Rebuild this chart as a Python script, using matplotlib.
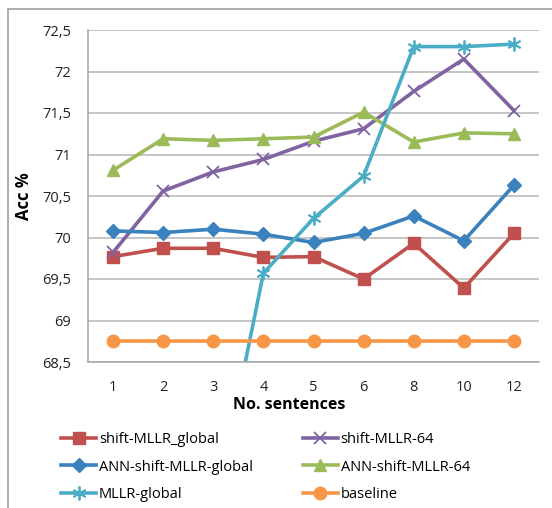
import matplotlib
matplotlib.use("Agg")
import matplotlib.pyplot as plt
from matplotlib.patches import Rectangle
from matplotlib.ticker import FuncFormatter, MultipleLocator

plt.rcParams['font.family'] = ['Open Sans', 'DejaVu Sans']

# data
sentences = ['1', '2', '3', '4', '5', '6', '8', '10', '12']
shift_mllr_global = [69.77, 69.87, 69.87, 69.76, 69.77, 69.50, 69.93, 69.39, 70.05]
shift_mllr_64 = [69.82, 70.56, 70.79, 70.94, 71.16, 71.31, 71.76, 72.15, 71.53]
ann_shift_mllr_global = [70.08, 70.06, 70.10, 70.04, 69.94, 70.05, 70.26, 69.96, 70.63]
ann_shift_mllr_64 = [70.81, 71.19, 71.17, 71.19, 71.21, 71.51, 71.15, 71.26, 71.25]
# points 1 and 2 are off the chart; 3 is just below the axis
mllr_global = [None, None, 66.6, 69.57, 70.23, 70.74, 72.30, 72.30, 72.33]
baseline = [68.75] * 9

fig = plt.figure(figsize=(5.52, 5.08), dpi=100)
ax = fig.add_axes([88 / 552, 1 - 362 / 508, 451 / 552, 332 / 508])

x = list(range(len(sentences)))
lw = 2.6
series = [
    ('shift-MLLR_global', shift_mllr_global, '#C0504D', 's', 8, None),
    ('shift-MLLR-64', shift_mllr_64, '#8064A2', 'x', 8, 1.3),
    ('ANN-shift-MLLR-global', ann_shift_mllr_global, '#3A82BE', 'D', 7, None),
    ('ANN-shift-MLLR-64', ann_shift_mllr_64, '#9BBB59', '^', 9, None),
    ('MLLR-global', mllr_global, '#4BACC6', (6, 2, 0), 10, 1.3),
    ('baseline', baseline, '#F79646', 'o', 9, None),
]
handles = []
for name, vals, col, mk, ms, mew in series:
    xs = [i for i, v in zip(x, vals) if v is not None]
    ys = [v for v in vals if v is not None]
    kw = {}
    if mew is not None:
        kw['markeredgewidth'] = mew
    h, = ax.plot(xs, ys, color=col, lw=lw, marker=mk, markersize=ms,
                 markerfacecolor=col, markeredgecolor=col, label=name, **kw)
    handles.append(h)

ax.set_xlim(-0.5, len(sentences) - 0.5)
ax.set_ylim(68.5, 72.5)
ax.set_xticks(x)
ax.set_xticklabels(sentences)
ax.yaxis.set_major_locator(MultipleLocator(0.5))
ax.yaxis.set_major_formatter(FuncFormatter(lambda v, p: f"{v:g}".replace('.', ',')))
ax.grid(axis='y', color='#B5B5B5', lw=1.1)
ax.set_axisbelow(True)
ax.tick_params(length=0, labelsize=10.5, colors='#222222')
ax.tick_params(axis='x', pad=13)
ax.tick_params(axis='y', pad=12)
for s in ['top', 'right']:
    ax.spines[s].set_visible(False)
for s in ['left', 'bottom']:
    ax.spines[s].set_color('#A6A6A6')
    ax.spines[s].set_linewidth(1.1)

ax.set_xlabel('No. sentences', fontsize=11.5, fontweight='bold')
ax.xaxis.set_label_coords((289 - 88) / 451, -(397 - 362) / 332)
ax.set_ylabel('Acc %', fontsize=12, fontweight='bold')
ax.yaxis.set_label_coords(-(88 - 33) / 451, 0.5)

# row-major order like the original legend
order = [0, 2, 4, 1, 3, 5]
fig.legend([handles[i] for i in order], [handles[i].get_label() for i in order],
           loc='upper left', bbox_to_anchor=(48 / 552, 1 - 419 / 508), ncol=2,
           frameon=False, fontsize=10.5, handlelength=2.4, handletextpad=0.2,
           columnspacing=3.4, labelspacing=0.85)

# chart area border (cropped in the original)
fig.patches.append(Rectangle((8 / 552, -0.1), 1.2, 1.1 - 9 / 508,
                             transform=fig.transFigure, fill=False,
                             edgecolor='#A0A0A0', lw=1.2))

fig.savefig('out.png', dpi=100)
